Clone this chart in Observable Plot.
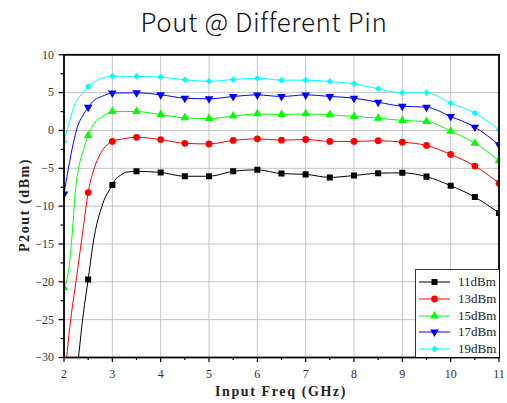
<!DOCTYPE html>
<html>
<head>
<meta charset="utf-8">
<script src="https://cdn.jsdelivr.net/npm/d3@7"></script>
<script src="https://cdn.jsdelivr.net/npm/@observablehq/plot@0.6"></script>
<style>
  html, body { margin: 0; padding: 0; background: #fff; }
  #wrap { position: relative; width: 507px; height: 403px; overflow: hidden; background: #fff; }
  #title { position: absolute; left: 264px; top: 0px; transform: translateX(-50%); white-space: nowrap;
           font-family: "Noto Sans CJK SC", "Noto Sans", sans-serif; font-weight: 300; font-size: 26px; letter-spacing: 0.6px; line-height: 42px; color: #111; }
  #chart { position: absolute; left: 0; top: 44px; }
  .axtitle { position: absolute; font-family: "Liberation Serif", serif; font-weight: bold; font-size: 14px; color: #222; white-space: nowrap; letter-spacing: 1.6px; }
  #xlab { left: 281px; top: 384px; transform: translateX(-50%); }
  #ylab { left: 25px; top: 205px; transform: translate(-50%, -50%) rotate(-90deg); }
  #legend { position: absolute; left: 415px; top: 269px; width: 83px; height: 87px; border: 1px solid #333; border-right: none; border-bottom: none; background: #fff; }
  .lrow { position: absolute; left: 0; height: 16px; display: flex; align-items: center; }
  .lrow span { font-family: "Liberation Serif", serif; font-size: 13px; color: #222; margin-left: 4px; }
</style>
</head>
<body>
<div id="wrap">
  <div id="title">Pout @ Different Pin</div>
  <div id="chart"></div>
  <div class="axtitle" id="xlab">Input Freq (GHz)</div>
  <div class="axtitle" id="ylab">P2out (dBm)</div>
  <div id="legend"></div>
</div>
<script>
// ---------- data ----------
const seriesNames = ["11dBm", "13dBm", "15dBm", "17dBm", "19dBm"];
const seriesColors = ["#000000", "#ff0000", "#00ff00", "#0000ff", "#00ffff"];

const markerFreq = [2, 2.5, 3, 3.5, 4, 4.5, 5, 5.5, 6, 6.5, 7, 7.5, 8, 8.5, 9, 9.5, 10, 10.5, 11];

const p11 = [null, -19.7, -7.2, -5.4, -5.55, -6.05, -6.05, -5.4, -5.2, -5.7, -5.8, -6.2, -5.95, -5.65, -5.6, -6.1, -7.3, -8.8, -10.9];
const p13 = [null, -8.2, -1.45, -0.9, -1.2, -1.7, -1.78, -1.32, -1.1, -1.28, -1.19, -1.45, -1.45, -1.36, -1.54, -1.98, -3.17, -4.7, -6.96];
const p15 = [-20.8, -0.66, 2.5, 2.5, 2.1, 1.67, 1.57, 1.9, 2.2, 2.1, 2.2, 2.07, 1.85, 1.63, 1.32, 1.19, -0.09, -1.68, -3.96];
const p17 = [-8.4, 3.08, 4.95, 4.98, 4.72, 4.27, 4.18, 4.49, 4.7, 4.49, 4.7, 4.5, 4.27, 3.74, 3.2, 3.08, 1.85, 0.44, -1.9];
const p19 = [-1.46, 5.8, 7.17, 7.15, 7.05, 6.7, 6.5, 6.73, 6.9, 6.65, 6.65, 6.47, 6.17, 5.5, 4.98, 4.98, 3.6, 2.3, 0.1];

// extra points of the traces between markers
const p11LineF = [2.3, 2.4, 2.6, 2.8, 3.05, 3.16, 3.3];
const p11LineV = [-30, -24.2, -15, -9.7, -6.6, -5.95, -5.5];
const p13LineF = [2.055, 2.12, 2.26, 2.4, 2.6, 2.72, 3.23];
const p13LineV = [-30, -26, -19.4, -12.8, -5.5, -3.5, -1.1];
const p15LineF = [2.12, 2.18, 2.23, 2.3, 2.4, 2.64, 2.78];
const p15LineV = [-17.2, -12.8, -8.36, -5.06, -2.64, 1.1, 1.76];
const p17LineF = [2.09, 2.19, 2.3, 2.37, 2.64, 2.78];
const p17LineV = [-5.06, -1.76, 0.88, 1.76, 4.06, 4.49];
const p19LineF = [2.12, 2.23, 2.37, 2.67, 2.81];
const p19LineV = [1.3, 3.53, 4.85, 6.6, 6.96];

const xMajor = [2, 3, 4, 5, 6, 7, 8, 9, 10, 11];
const xMinor = [2.5, 3.5, 4.5, 5.5, 6.5, 7.5, 8.5, 9.5, 10.5];
const yMajor = [-30, -25, -20, -15, -10, -5, 0, 5, 10];
const yMinor = [-27.5, -22.5, -17.5, -12.5, -7.5, -2.5, 2.5, 7.5];

// ---------- build tables ----------
const markerVals = [p11, p13, p15, p17, p19];
const lineF = [p11LineF, p13LineF, p15LineF, p17LineF, p19LineF];
const lineV = [p11LineV, p13LineV, p15LineV, p17LineV, p19LineV];

const triangleDown = {
  draw(context, size) {
    const s = Math.sqrt(size * 4 / Math.sqrt(3));
    const h = s * Math.sqrt(3) / 2;
    context.moveTo(-s / 2, -h / 3);
    context.lineTo(s / 2, -h / 3);
    context.lineTo(0, 2 * h / 3);
    context.closePath();
  }
};
const seriesSymbols = [d3.symbolSquare, d3.symbolCircle, d3.symbolTriangle, triangleDown, d3.symbolDiamond2];
const seriesR = [3.4, 3.4, 3.2, 3.2, 3.0];

const lineMarks = [];
const dotMarks = [];
seriesNames.forEach((name, s) => {
  const pts = [];
  markerFreq.forEach((f, i) => { if (markerVals[s][i] != null) pts.push({f, v: markerVals[s][i]}); });
  const linePts = pts.concat(lineF[s].map((f, i) => ({f, v: lineV[s][i]}))).sort((a, b) => a.f - b.f);
  lineMarks.push(Plot.line(linePts, {x: "f", y: "v", stroke: seriesColors[s], strokeWidth: 1, curve: "monotone-x", clip: true}));
  dotMarks.push(Plot.dot(pts, {x: "f", y: "v", fill: seriesColors[s], stroke: "none", symbol: seriesSymbols[s], r: seriesR[s], clip: true}));
});

const chart = Plot.plot({
  width: 507,
  height: 359,
  marginTop: 10.3,
  marginBottom: 46,
  marginLeft: 63.5,
  marginRight: 8.5,
  x: {domain: [2, 11]},
  y: {domain: [-30, 10]},
  style: {fontFamily: "Liberation Serif, serif", fontSize: "12px", color: "#333", background: "transparent", overflow: "visible"},
  marks: [
    Plot.gridX(xMajor, {stroke: "#c4c4c4", strokeOpacity: 1, strokeWidth: 1}),
    Plot.gridY(yMajor, {stroke: "#c4c4c4", strokeOpacity: 1, strokeWidth: 1}),
    ...lineMarks,
    ...dotMarks,
    Plot.axisX(xMajor, {tickSize: 5, tickPadding: 7, stroke: "#000", strokeWidth: 1.2, label: null, fill: "#333"}),
    Plot.axisX(xMinor, {tickSize: 3, text: null, stroke: "#000", strokeWidth: 1.2, label: null}),
    Plot.axisY(yMajor, {tickSize: 5, tickPadding: 5, stroke: "#000", strokeWidth: 1.2, label: null, fill: "#333"}),
    Plot.axisY(yMinor, {tickSize: 3, text: null, stroke: "#000", strokeWidth: 1.2, label: null}),
    Plot.frame({stroke: "#000", strokeWidth: 1.8})
  ]
});
document.getElementById("chart").appendChild(chart);

// ---------- legend ----------
const legend = d3.select("#legend");
seriesNames.forEach((name, s) => {
  const row = legend.append("div").attr("class", "lrow").style("top", (4 + s * 16.8) + "px");
  const svg = row.append("svg").attr("width", 38).attr("height", 16);
  svg.append("line").attr("x1", 3).attr("x2", 34).attr("y1", 8).attr("y2", 8).attr("stroke", seriesColors[s]).attr("stroke-width", 1);
  const size = Math.PI * seriesR[s] * seriesR[s];
  svg.append("path").attr("d", d3.symbol(seriesSymbols[s], size)()).attr("transform", "translate(18.5,8)").attr("fill", seriesColors[s]);
  row.append("span").text(name);
});
</script>
</body>
</html>
